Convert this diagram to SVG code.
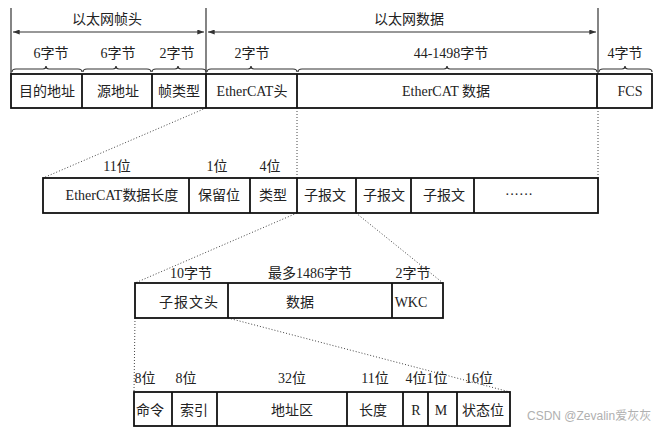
<svg xmlns="http://www.w3.org/2000/svg" width="657" height="432" viewBox="0 0 657 432">
<style>
text{font-family:"Liberation Serif","Noto Sans CJK SC",serif;font-size:14px;fill:#222;text-anchor:middle}
.box{fill:#fff;stroke:#111;stroke-width:1.8}
.div{stroke:#111;stroke-width:1.8}
.thin{stroke:#333;stroke-width:1.2;fill:none}
.brace{stroke:#333;stroke-width:1.2;fill:none}
.dot{stroke:#444;stroke-width:1;stroke-dasharray:1 2;fill:none}
.wm{font-family:"Liberation Sans","Noto Sans CJK SC",sans-serif;font-size:12px;fill:#b0b0b0;text-anchor:start}
</style>
<defs>
<marker id="ah" viewBox="0 0 8 6" refX="8" refY="3" markerWidth="7" markerHeight="5" markerUnits="userSpaceOnUse" orient="auto-start-reverse">
<path d="M0,0 L8,3 L0,6 Z" fill="#333"/>
</marker>
</defs>
<rect width="657" height="432" fill="#fff"/>

<g id="connectors">
<line class="thin" x1="11" y1="8" x2="11" y2="74"/>
<line class="thin" x1="206" y1="8" x2="206" y2="74"/>
<line class="thin" x1="598" y1="8" x2="598" y2="74"/>
<line class="thin" x1="13" y1="32" x2="204" y2="32" marker-start="url(#ah)" marker-end="url(#ah)"/>
<line class="thin" x1="208" y1="32" x2="596" y2="32" marker-start="url(#ah)" marker-end="url(#ah)"/>
<path class="brace" d="M12,72 Q12,69 16,69 L43,69 Q46,69 46,66 Q46,69 49,69 L78,69 Q82,69 82,72"/>
<path class="brace" d="M83,72 Q83,69 87,69 L113,69 Q116,69 116,66 Q116,69 119,69 L147,69 Q151,69 151,72"/>
<path class="brace" d="M152,72 Q152,69 156,69 L175,69 Q178,69 178,66 Q178,69 181,69 L202,69 Q206,69 206,72"/>
<path class="brace" d="M207,72 Q207,69 211,69 L248,69 Q251,69 251,66 Q251,69 254,69 L293,69 Q297,69 297,72"/>
<path class="brace" d="M298,72 Q298,69 302,69 L444,69 Q447,69 447,66 Q447,69 450,69 L593,69 Q597,69 597,72"/>
<path class="brace" d="M599,72 Q599,69 603,69 L622,69 Q625,69 625,66 Q625,69 628,69 L648,69 Q652,69 652,72"/>
<line class="dot" x1="206" y1="108" x2="43" y2="178"/>
<line class="dot" x1="297" y1="108" x2="297" y2="178"/>
<line class="dot" x1="598" y1="108" x2="598" y2="178"/>
<line class="dot" x1="297" y1="213" x2="135" y2="283"/>
<line class="dot" x1="356" y1="213" x2="443" y2="283"/>
<line class="dot" x1="135" y1="318" x2="134" y2="392"/>
<line class="dot" x1="228" y1="318" x2="510" y2="392"/>
</g>

<g id="labels-top">
<text x="107" y="24">以太网帧头</text>
<text x="409" y="24">以太网数据</text>
<text x="51" y="58">6字节</text>
<text x="118" y="58">6字节</text>
<text x="177" y="58">2字节</text>
<text x="252" y="58">2字节</text>
<text x="451" y="58">44-1498字节</text>
<text x="625" y="58">4字节</text>
</g>

<g id="ethernet-frame">
<rect class="box" x="11" y="74" width="641" height="34"/>
<line class="div" x1="82" y1="74" x2="82" y2="108"/>
<line class="div" x1="152" y1="74" x2="152" y2="108"/>
<line class="div" x1="206" y1="74" x2="206" y2="108"/>
<line class="div" x1="297" y1="74" x2="297" y2="108"/>
<line class="div" x1="597" y1="74" x2="597" y2="108"/>
<text x="47" y="96">目的地址</text>
<text x="118" y="96">源地址</text>
<text x="179" y="96">帧类型</text>
<text x="252" y="96">EtherCAT头</text>
<text x="446" y="96">EtherCAT 数据</text>
<text x="630" y="96">FCS</text>
</g>

<g id="ethercat-frame">
<text x="117" y="171">11位</text>
<text x="217" y="171">1位</text>
<text x="270" y="171">4位</text>
<rect class="box" x="43" y="178" width="555" height="35"/>
<line class="div" x1="189" y1="178" x2="189" y2="213"/>
<line class="div" x1="250" y1="178" x2="250" y2="213"/>
<line class="div" x1="297" y1="178" x2="297" y2="213"/>
<line class="div" x1="356" y1="178" x2="356" y2="213"/>
<line class="div" x1="411" y1="178" x2="411" y2="213"/>
<line class="div" x1="474" y1="178" x2="474" y2="213"/>
<text x="122" y="200">EtherCAT数据长度</text>
<text x="219" y="200">保留位</text>
<text x="273" y="200">类型</text>
<text x="325" y="200">子报文</text>
<text x="384" y="200">子报文</text>
<text x="444" y="200">子报文</text>
<text x="519" y="199">······</text>
</g>

<g id="datagram">
<text x="191" y="278">10字节</text>
<text x="310" y="278">最多1486字节</text>
<text x="413" y="278">2字节</text>
<rect class="box" x="135" y="283" width="308" height="35"/>
<line class="div" x1="228" y1="283" x2="228" y2="318"/>
<line class="div" x1="392" y1="283" x2="392" y2="318"/>
<text x="189" y="307" letter-spacing="1">子报文头</text>
<text x="300" y="307">数据</text>
<text x="411" y="307">WKC</text>
</g>

<g id="datagram-header">
<text x="145" y="383">8位</text>
<text x="186" y="383">8位</text>
<text x="292" y="383">32位</text>
<text x="375" y="383">11位</text>
<text x="416" y="383">4位</text>
<text x="437" y="383">1位</text>
<text x="479" y="383">16位</text>
<rect class="box" x="134" y="392" width="376" height="34"/>
<line class="div" x1="172" y1="392" x2="172" y2="426"/>
<line class="div" x1="217" y1="392" x2="217" y2="426"/>
<line class="div" x1="347" y1="392" x2="347" y2="426"/>
<line class="div" x1="403" y1="392" x2="403" y2="426"/>
<line class="div" x1="428" y1="392" x2="428" y2="426"/>
<line class="div" x1="457" y1="392" x2="457" y2="426"/>
<text x="150" y="415">命令</text>
<text x="194" y="415">索引</text>
<text x="292" y="415">地址区</text>
<text x="373" y="415">长度</text>
<text x="416" y="415">R</text>
<text x="441" y="415">M</text>
<text x="483" y="415">状态位</text>
</g>

<text class="wm" x="527" y="420">CSDN @Zevalin爱灰灰</text>
</svg>
